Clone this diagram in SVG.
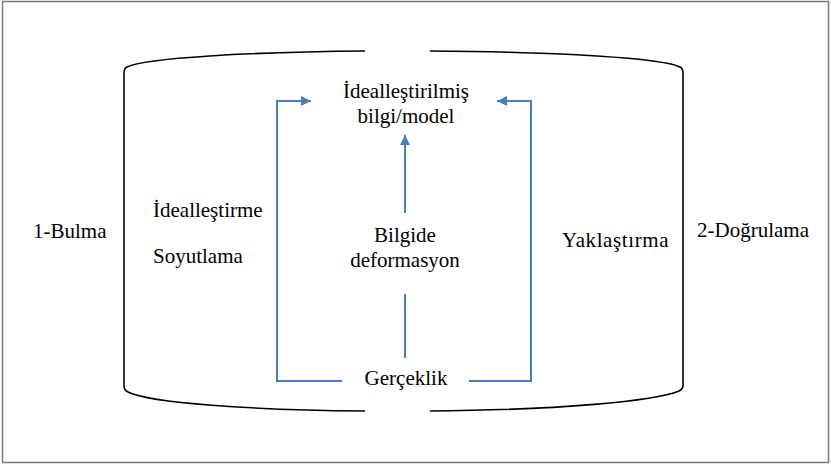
<svg xmlns="http://www.w3.org/2000/svg" width="831" height="464" viewBox="0 0 831 464">
<style>
.c{text-anchor:middle}
.br{fill:none;stroke:#000;stroke-width:1.6}
.bl{fill:none;stroke:#4a7ebb;stroke-width:2}
</style>
<defs>
<marker id="ah" viewBox="0 0 10 10" refX="10" refY="5" markerWidth="10" markerHeight="10" markerUnits="userSpaceOnUse" orient="auto">
<path d="M0,0 L10,5 L0,10 z" fill="#4a7ebb"/>
</marker>
</defs>
<rect x="2.5" y="1.5" width="826" height="461" fill="#fff" stroke="#7a7a7a" stroke-width="1.5"/>
<g id="brackets">
<path class="br" d="M365,51 C250,52 145,58 127,67 Q124,68.5 124,73 L124,386 Q124,390 128,392 C150,403 250,410 365,411"/>
<path class="br" d="M430,51 C560,52 662,58 680,67 Q683,68.5 683,73 L683,385 Q683,389 679,391 C655,401 560,410 430,411"/>
</g>
<g id="connectors">
<path class="bl" d="M342,381 L277,381 L277,101 L311,101" marker-end="url(#ah)"/>
<path class="bl" d="M469,381 L531,381 L531,101 L497,101" marker-end="url(#ah)"/>
<path class="bl" d="M405,213 L405,135" marker-end="url(#ah)"/>
<path class="bl" d="M405,294 L405,358"/>
</g>
<g font-family="Liberation Serif, serif" font-size="21" fill="#000">
<g id="n-model"><text class="c" x="406" y="98">İdealleştirilmiş</text><text class="c" x="406" y="123">bilgi/model</text></g>
<g id="n-bulma"><text x="33" y="238">1-Bulma</text></g>
<g id="n-idealles"><text x="153" y="217">İdealleştirme</text></g>
<g id="n-soyut"><text x="153" y="263">Soyutlama</text></g>
<g id="n-bilgide"><text class="c" x="405" y="242">Bilgide</text><text class="c" x="405" y="267">deformasyon</text></g>
<g id="n-yaklas"><text x="562" y="247" letter-spacing="0.6">Yaklaştırma</text></g>
<g id="n-dogru"><text x="697" y="237">2-Doğrulama</text></g>
<g id="n-gercek"><text class="c" x="406" y="385">Gerçeklik</text></g>
</g>
</svg>
